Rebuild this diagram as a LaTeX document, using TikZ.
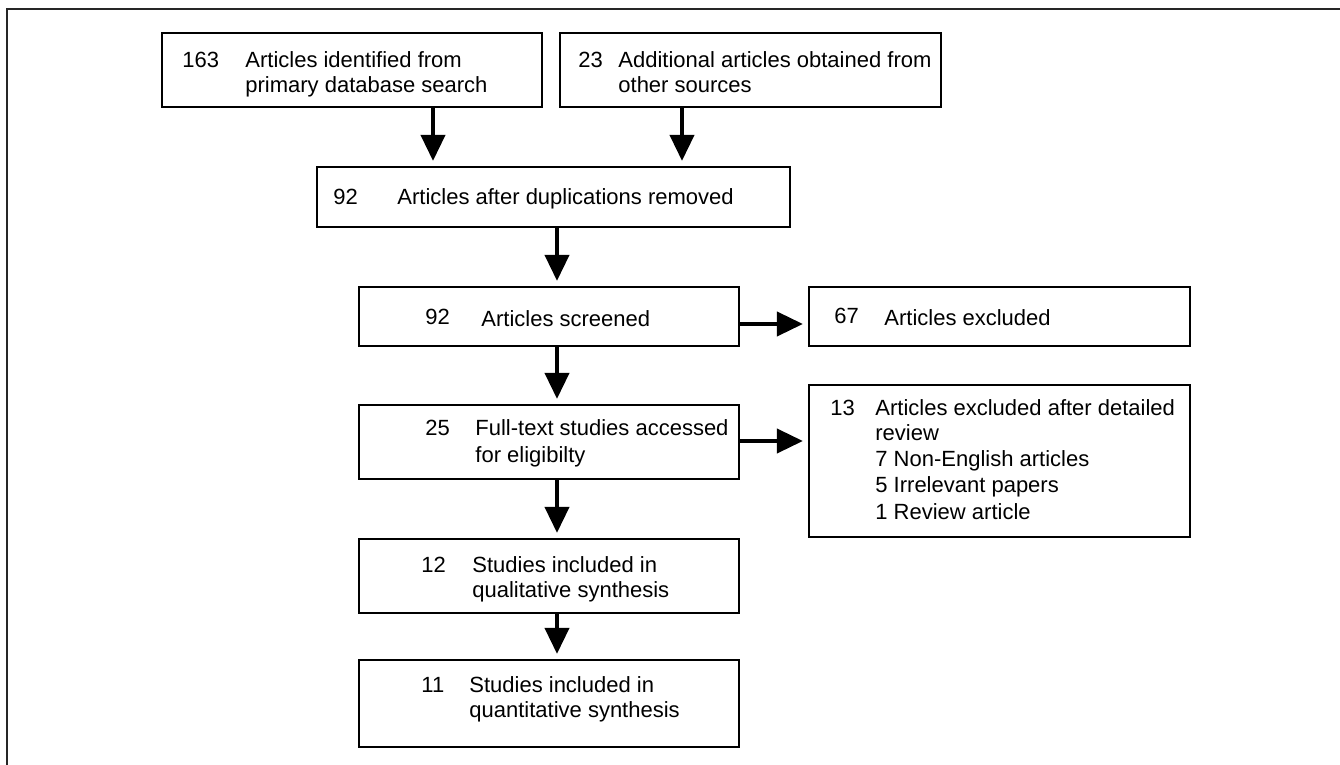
\documentclass[tikz,border=0pt]{standalone}
\usepackage{fontspec}
\setmainfont{Liberation Sans}
\usetikzlibrary{arrows.meta,fit}
\begin{document}
\begin{tikzpicture}[x=0.5pt,y=-0.5pt,
  box/.style={draw=black,line width=1.1pt,inner sep=0pt,rectangle},
  txt/.style={anchor=base west,inner sep=0pt,font=\fontsize{11}{12.5}\selectfont},
  arr/.style={line width=2pt,-{Triangle[length=13pt,width=12pt]},shorten >=2.5pt}]
\useasboundingbox (0,0) rectangle (1340,765);
% outer frame
\coordinate (fbl) at (7,765);
\coordinate (ftl) at (7,9);
\coordinate (ftr) at (1340,9);
\draw[line width=1pt,black!85] (fbl) -- (ftl) -- (ftr);
% boxes
\node[box,fit={(162,33) (542,107)}] (A) {};
\node[box,fit={(560,33) (941,107)}] (B) {};
\node[box,fit={(317,167) (790,227)}] (C) {};
\node[box,fit={(359,287) (739,346)}] (D) {};
\node[box,fit={(359,405) (739,479)}] (E) {};
\node[box,fit={(809,287) (1190,346)}] (F) {};
\node[box,fit={(809,385) (1190,537)}] (G) {};
\node[box,fit={(359,539) (739,613)}] (H) {};
\node[box,fit={(359,660) (739,747)}] (I) {};
% texts
\node[txt] (An) at (182,68) {163};
\node[txt] (At1) at (245,68) {Articles identified from};
\node[txt] (At2) at (245,93) {primary database search};
\node[txt] (Bn) at (578,68) {23};
\node[txt] (Bt1) at (618,68) {Additional articles obtained from};
\node[txt] (Bt2) at (618,93) {other sources};
\node[txt] (Cn) at (333,205) {92};
\node[txt] (Ct1) at (397,205) {Articles after duplications removed};
\node[txt] (Dn) at (425,324) {92};
\node[txt] (Dt1) at (481,326) {Articles screened};
\node[txt] (En) at (425,435) {25};
\node[txt] (Et1) at (475,435) {Full-text studies accessed};
\node[txt] (Et2) at (475,462) {for eligibilty};
\node[txt] (Fn) at (834,323) {67};
\node[txt] (Ft1) at (884,325) {Articles excluded};
\node[txt] (Gn) at (830,415) {13};
\node[txt] (Gt1) at (875,415) {Articles excluded after detailed};
\node[txt] (Gt2) at (875,440) {review};
\node[txt] (Gt3) at (875,466) {7 Non-English articles};
\node[txt] (Gt4) at (875,492) {5 Irrelevant papers};
\node[txt] (Gt5) at (875,519) {1 Review article};
\node[txt] (Hn) at (421,572) {12};
\node[txt] (Ht1) at (472,572) {Studies included in};
\node[txt] (Ht2) at (472,597) {qualitative synthesis};
\node[txt] (In) at (421,692) {11};
\node[txt] (It1) at (469,692) {Studies included in};
\node[txt] (It2) at (469,717) {quantitative synthesis};
% arrow guide coordinates
\coordinate (ax) at (433,0);
\coordinate (bx) at (682,0);
\coordinate (mx) at (557,0);
\coordinate (dy) at (0,324);
\coordinate (ey) at (0,441);
% arrows
\draw[arr] (A.south -| ax) -- (C.north -| ax);
\draw[arr] (B.south -| bx) -- (C.north -| bx);
\draw[arr] (C.south -| mx) -- (D.north -| mx);
\draw[arr] (D.south -| mx) -- (E.north -| mx);
\draw[arr] (E.south -| mx) -- (H.north -| mx);
\draw[arr] (H.south -| mx) -- (I.north -| mx);
\draw[arr] (D.east |- dy) -- (F.west |- dy);
\draw[arr] (E.east |- ey) -- (G.west |- ey);
\end{tikzpicture}
\end{document}
